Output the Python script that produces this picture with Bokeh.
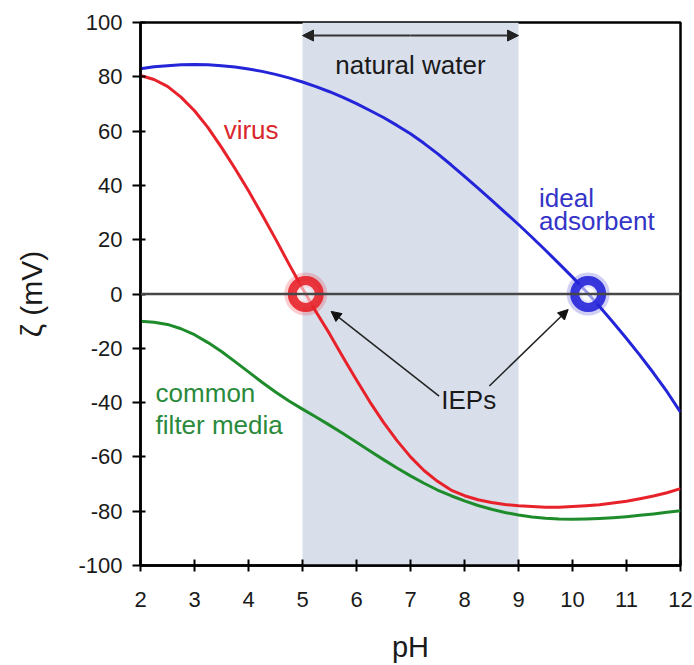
from bokeh.plotting import figure
from bokeh.models import (BoxAnnotation, Span, Arrow, NormalHead, FixedTicker,
                          PrintfTickFormatter)
from bokeh.core.properties import value
from bokeh.embed import file_html
from bokeh.resources import INLINE

# pH grid shared by the three zeta-potential curves
ph = [2.0, 2.25, 2.5, 2.75, 3.0, 3.25, 3.5, 3.75, 4.0, 4.25, 4.5, 4.75,
      5.0, 5.25, 5.5, 5.75, 6.0, 6.25, 6.5, 6.75, 7.0, 7.25, 7.5, 7.75,
      8.0, 8.25, 8.5, 8.75, 9.0, 9.25, 9.5, 9.75, 10.0, 10.25, 10.5, 10.75,
      11.0, 11.25, 11.5, 11.75, 12.0]

# zeta potential (mV) of each material
ideal_adsorbent = [83, 83.7, 84.1, 84.4, 84.5, 84.4, 84.1, 83.6, 82.9, 82, 80.9, 79.6,
                   78.1, 76.4, 74.5, 72.4, 70.1, 67.6, 65, 62.1, 59, 55.5, 51.7, 47.6,
                   43.3, 39, 34.6, 30.1, 25.6, 20.9, 16.1, 11.2, 6.2, 1, -4.6, -10.4,
                   -16.4, -22.6, -29.1, -36, -43.5]
virus = [80.5, 79, 76.5, 72.5, 67.5, 61.3, 54, 46.2, 38, 29.3, 20.3, 11,
         2, -6.5, -14.6, -23.3, -31.7, -39.8, -47.3, -54, -60, -65, -69, -72.2,
         -74.3, -75.8, -76.8, -77.5, -78, -78.3, -78.5, -78.5, -78.3, -78, -77.6, -77,
         -76.3, -75.4, -74.4, -73.2, -71.7]
filter_media = [-10, -10.4, -11.2, -12.8, -15, -17.9, -21.2, -24.9, -28.7, -32.5, -36.1, -39.4,
                -42.4, -45.3, -48.3, -51.4, -54.6, -57.8, -61, -64.1, -67, -69.7, -72.2, -74.3,
                -76.2, -77.9, -79.3, -80.5, -81.4, -82.1, -82.6, -82.9, -83, -82.9, -82.7, -82.4,
                -82, -81.5, -81, -80.4, -79.8]

# isoelectric points (virus, ideal adsorbent)
iep_ph = [5.06, 10.29]
iep_zeta = [0, 0]

# pH range of natural water
natural_water = [5, 9]

x_ticks = list(range(2, 13))
y_ticks = list(range(-100, 101, 20))

RED = "#e8222a"
BLUE = "#2424d8"
GREEN = "#1f8c2c"
FONT = "Liberation Sans"

p = figure(width=694, height=665, x_range=(2, 12), y_range=(-100, 100),
           output_backend="svg", toolbar_location=None,
           min_border_left=140, min_border_right=14,
           min_border_top=22, min_border_bottom=98)

p.background_fill_color = "white"
p.border_fill_color = "white"
p.outline_line_color = "black"
p.outline_line_width = 2.5
p.xgrid.visible = False
p.ygrid.visible = False

# shaded natural-water band
p.add_layout(BoxAnnotation(left=natural_water[0], right=natural_water[1],
                           fill_color="#d8dfeb", fill_alpha=1.0, line_alpha=0,
                           level="underlay"))

# zero line
p.add_layout(Span(location=0, dimension="width", line_color="#474747",
                  line_width=2.5))

# curves
for ys, col in ((ideal_adsorbent, BLUE), (virus, RED), (filter_media, GREEN)):
    p.line(ph, ys, line_color=col, line_width=3, line_join="round")

# IEP rings
ring_cols = [RED, BLUE]
p.scatter(iep_ph, iep_zeta, size=28, marker="circle", fill_alpha=0,
          line_color=ring_cols, line_width=15, line_alpha=0.22)
p.scatter(iep_ph, iep_zeta, size=27, marker="circle", fill_color="white",
          fill_alpha=0.55, line_color=ring_cols, line_width=9, line_alpha=0.9)

# natural water range arrow
mid_nw = sum(natural_water) / 2
for end_x in natural_water:
    p.add_layout(Arrow(x_start=mid_nw, y_start=95.2, x_end=end_x, y_end=95.2,
                       line_color="#333333", line_width=2,
                       end=NormalHead(size=11, fill_color="#222222",
                                      line_color="#222222")))

# pointers from the IEPs label to each ring
p.add_layout(Arrow(x_start=7.53, y_start=-37.6,
                   x_end=iep_ph[0] + 0.47, y_end=iep_zeta[0] - 6.4,
                   line_color="#222222", line_width=1.5,
                   end=NormalHead(size=10, fill_color="#111111", line_color="#111111")))
p.add_layout(Arrow(x_start=8.46, y_start=-33.9,
                   x_end=iep_ph[1] - 0.37, y_end=iep_zeta[1] - 5.7,
                   line_color="#222222", line_width=1.5,
                   end=NormalHead(size=10, fill_color="#111111", line_color="#111111")))


def label(x, y, txt, color, size="26px", align="left"):
    p.text(x=[x], y=[y], text=[txt], text_color=color,
           text_font=value(FONT), text_font_size=size,
           text_align=align, text_baseline="alphabetic")


label(7.0, 84.4, "natural water", "#1a1a1a", align="center")
label(3.54, 60.3, "virus", "#d8262c")
label(9.38, 35.3, "ideal", "#3434c8")
label(9.38, 26.9, "adsorbent", "#3434c8")
label(2.28, -36.3, "common", "#2a8a3c")
label(2.28, -48.1, "filter media", "#2a8a3c")
label(7.57, -39.0, "IEPs", "#1a1a1a")

# axes
for ax in (p.xaxis[0], p.yaxis[0]):
    ax.axis_line_color = "black"
    ax.axis_line_width = 2.5
    ax.major_tick_line_color = "black"
    ax.major_tick_line_width = 2
    ax.minor_tick_line_color = None
    ax.major_label_text_font = FONT
    ax.major_label_text_font_size = "22px"
    ax.major_label_text_color = "#1a1a1a"
    ax.axis_label_text_font = FONT
    ax.axis_label_text_font_style = "normal"
    ax.axis_label_text_color = "#1a1a1a"
    ax.formatter = PrintfTickFormatter(format="%d")

p.xaxis.ticker = FixedTicker(ticks=x_ticks)
p.yaxis.ticker = FixedTicker(ticks=y_ticks)
p.xaxis.major_tick_in = 6
p.xaxis.major_tick_out = 6
p.yaxis.major_tick_in = 5
p.yaxis.major_tick_out = 8
p.xaxis.major_label_standoff = 20
p.yaxis.major_label_standoff = 10
p.xaxis.axis_label = "pH"
p.yaxis.axis_label = "ζ (mV)"
p.xaxis.axis_label_text_font_size = "29px"
p.yaxis.axis_label_text_font_size = "30px"
p.xaxis.axis_label_standoff = 21
p.yaxis.axis_label_standoff = 27

open("out.html", "w").write(file_html(p, INLINE))
